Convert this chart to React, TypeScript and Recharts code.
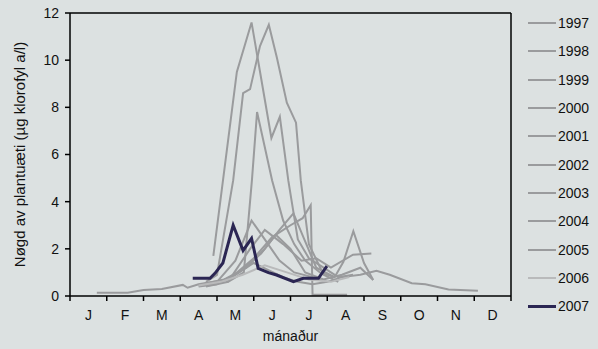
import React from "react";
import { LineChart, Line, XAxis, YAxis, Label, ReferenceLine } from "recharts";

const months = ["J", "F", "M", "A", "M", "J", "J", "A", "S", "O", "N", "D"];
const monthTicks = [0, 1, 2, 3, 4, 5, 6, 7, 8, 9, 10, 11, 12];
const yTicks = [0, 2, 4, 6, 8, 10, 12];
const years = ["1997", "1998", "1999", "2000", "2001", "2002", "2003", "2004", "2005", "2006", "2007"];

// m = month (0 = 1 Jan), v = chlorophyll a (µg/l)
const s1997 = [
  { m: 0.73, v: 0.14 }, { m: 1.57, v: 0.14 }, { m: 2.0, v: 0.25 }, { m: 2.5, v: 0.3 },
  { m: 3.07, v: 0.47 }, { m: 3.2, v: 0.35 }, { m: 3.5, v: 0.5 }, { m: 3.9, v: 0.6 },
  { m: 4.3, v: 0.7 }, { m: 4.6, v: 1.0 }, { m: 5.0, v: 1.4 }, { m: 5.4, v: 1.1 },
  { m: 5.8, v: 0.8 }, { m: 6.2, v: 0.6 }, { m: 6.6, v: 0.5 }, { m: 7.0, v: 0.6 },
  { m: 7.4, v: 0.8 }, { m: 7.9, v: 0.9 }, { m: 8.34, v: 1.07 }, { m: 8.7, v: 0.9 },
  { m: 9.3, v: 0.54 }, { m: 9.67, v: 0.5 }, { m: 10.3, v: 0.28 }, { m: 11.1, v: 0.22 },
];
const s1998 = [
  { m: 3.9, v: 1.7 }, { m: 4.54, v: 9.5 }, { m: 4.94, v: 11.6 }, { m: 5.48, v: 6.7 },
  { m: 5.71, v: 7.6 }, { m: 5.94, v: 4.9 }, { m: 6.2, v: 2.4 }, { m: 6.5, v: 1.6 },
  { m: 6.9, v: 1.2 }, { m: 7.3, v: 0.8 }, { m: 7.7, v: 0.9 },
];
const s1999 = [
  { m: 3.7, v: 0.6 }, { m: 4.0, v: 0.9 }, { m: 4.44, v: 4.9 }, { m: 4.71, v: 8.6 },
  { m: 4.9, v: 8.77 }, { m: 5.17, v: 10.6 }, { m: 5.41, v: 11.5 }, { m: 5.63, v: 10.1 },
  { m: 5.9, v: 8.2 }, { m: 6.15, v: 7.35 }, { m: 6.28, v: 4.9 }, { m: 6.5, v: 2.2 },
  { m: 6.9, v: 0.9 }, { m: 7.3, v: 0.6 },
];
const s2000 = [
  { m: 4.3, v: 0.6 }, { m: 4.73, v: 1.0 }, { m: 4.95, v: 4.9 }, { m: 5.09, v: 7.8 },
  { m: 5.5, v: 4.9 }, { m: 5.8, v: 3.2 }, { m: 6.1, v: 2.2 }, { m: 6.4, v: 1.5 },
  { m: 6.8, v: 1.0 }, { m: 7.2, v: 0.8 },
];
const s2001 = [
  { m: 3.5, v: 0.45 }, { m: 4.0, v: 0.6 }, { m: 4.5, v: 1.5 }, { m: 4.94, v: 3.2 },
  { m: 5.3, v: 2.4 }, { m: 5.7, v: 1.5 }, { m: 6.1, v: 1.0 }, { m: 6.6, v: 0.8 },
  { m: 7.0, v: 0.6 },
];
const s2002 = [
  { m: 3.6, v: 0.5 }, { m: 4.2, v: 0.7 }, { m: 4.8, v: 1.2 }, { m: 5.3, v: 2.0 },
  { m: 5.7, v: 2.8 }, { m: 6.08, v: 3.5 }, { m: 6.35, v: 2.5 }, { m: 6.7, v: 1.2 },
  { m: 7.2, v: 0.8 }, { m: 7.44, v: 1.45 }, { m: 7.71, v: 2.75 }, { m: 8.0, v: 1.4 },
  { m: 8.25, v: 0.68 },
];
const s2003 = [
  { m: 3.8, v: 0.5 }, { m: 4.4, v: 0.8 }, { m: 5.0, v: 1.6 }, { m: 5.5, v: 2.5 },
  { m: 6.0, v: 3.0 }, { m: 6.33, v: 3.3 }, { m: 6.55, v: 3.85 }, { m: 6.6, v: 0.05 },
  { m: 7.54, v: 0.05 },
];
const s2004 = [
  { m: 3.7, v: 0.4 }, { m: 4.3, v: 0.6 }, { m: 4.9, v: 2.0 }, { m: 5.3, v: 2.8 },
  { m: 5.8, v: 2.2 }, { m: 6.3, v: 1.5 }, { m: 6.7, v: 1.6 }, { m: 7.1, v: 1.2 },
  { m: 7.7, v: 1.75 }, { m: 8.2, v: 1.8 },
];
const s2005 = [
  { m: 3.5, v: 0.4 }, { m: 4.0, v: 0.5 }, { m: 4.6, v: 1.0 }, { m: 5.2, v: 1.8 },
  { m: 5.6, v: 2.6 }, { m: 6.0, v: 2.0 }, { m: 6.4, v: 1.0 }, { m: 6.9, v: 0.7 },
  { m: 7.4, v: 0.9 }, { m: 7.9, v: 1.2 }, { m: 8.25, v: 0.68 },
];
const s2006 = [
  { m: 3.5, v: 0.45 }, { m: 4.1, v: 0.6 }, { m: 4.7, v: 0.9 }, { m: 5.3, v: 1.3 },
  { m: 5.9, v: 1.0 }, { m: 6.5, v: 0.7 }, { m: 7.1, v: 0.6 }, { m: 7.6, v: 0.8 },
];
const s2007 = [
  { m: 3.34, v: 0.75 }, { m: 3.81, v: 0.75 }, { m: 3.95, v: 0.97 }, { m: 4.16, v: 1.4 },
  { m: 4.44, v: 3.0 }, { m: 4.71, v: 1.93 }, { m: 4.94, v: 2.44 }, { m: 5.12, v: 1.17 },
  { m: 5.4, v: 0.99 }, { m: 5.62, v: 0.89 }, { m: 6.08, v: 0.61 }, { m: 6.35, v: 0.75 },
  { m: 6.76, v: 0.75 }, { m: 6.99, v: 1.27 },
];

const seriesData = [s1997, s1998, s1999, s2000, s2001, s2002, s2003, s2004, s2005, s2006, s2007];

const GRAY = "#9a9b9d";
const LIGHT = "#b9babb";
const NAVY = "#2b2653";
const colorFor = (i: number) => (i === 10 ? NAVY : i === 9 ? LIGHT : GRAY);
const font = "Arial, 'Liberation Sans', sans-serif";

const MonthTick = (props: any) => {
  const { x, y, payload } = props;
  if (payload.value >= 12) return null;
  return (
    <text x={x + 18.4} y={y + 17} textAnchor="middle" fontSize={14} fontFamily={font} fill="#111">
      {months[payload.value]}
    </text>
  );
};

const YLabel = (props: any) => {
  const vb = props.viewBox || { y: 13, height: 283 };
  const cx = 19;
  const cy = vb.y + vb.height / 2;
  return (
    <text
      x={cx}
      y={cy}
      transform={`rotate(-90 ${cx} ${cy})`}
      textAnchor="middle"
      dominantBaseline="central"
      fontSize={15}
      fontFamily={font}
      fill="#111"
    >
      Nøgd av plantuæti (µg klorofyl a/l)
    </text>
  );
};

const LegendBox = () => (
  <div style={{ position: "absolute", left: 528, top: 9, fontFamily: font, fontSize: 14, color: "#111" }}>
    {years.map((y, i) => (
      <div key={y} style={{ height: 28.3, display: "flex", alignItems: "center" }}>
        <div style={{ width: 28, height: i === 10 ? 3 : 2, background: colorFor(i), marginRight: 2 }} />
        <span>{y}</span>
      </div>
    ))}
  </div>
);

export default function App() {
  return (
    <div style={{ position: "absolute", left: 0, top: 0, width: 598, height: 349, background: "#dce1e1" }}>
      <LineChart width={598} height={349} margin={{ top: 13, right: 87, bottom: 0, left: 0 }}>
        <XAxis
          type="number"
          dataKey="m"
          domain={[0, 12]}
          ticks={monthTicks}
          interval={0}
          height={53}
          tickSize={5}
          tick={<MonthTick />}
          axisLine={{ stroke: "#000", strokeWidth: 1.5 }}
          tickLine={{ stroke: "#000", strokeWidth: 1.5 }}
          allowDataOverflow
        >
          <Label value="mánaður" position="insideBottom" offset={8} fontSize={14} fontFamily={font} fill="#111" />
        </XAxis>
        <YAxis
          type="number"
          domain={[0, 12]}
          ticks={yTicks}
          interval={0}
          width={70}
          tickSize={5}
          tickMargin={6}
          tick={{ fontSize: 14, fontFamily: font, fill: "#111" }}
          axisLine={{ stroke: "#000", strokeWidth: 1.5 }}
          tickLine={{ stroke: "#000", strokeWidth: 1.5 }}
        >
          <Label content={<YLabel />} />
        </YAxis>
        <ReferenceLine y={12} stroke="#000" strokeWidth={1.5} />
        <ReferenceLine x={12} stroke="#000" strokeWidth={1.5} />
        {seriesData.map((d, i) => (
          <Line
            key={years[i]}
            data={d}
            dataKey="v"
            name={years[i]}
            stroke={colorFor(i)}
            strokeWidth={i === 10 ? 3 : 2}
            dot={false}
            activeDot={false}
            isAnimationActive={false}
          />
        ))}
      </LineChart>
      <LegendBox />
    </div>
  );
}
